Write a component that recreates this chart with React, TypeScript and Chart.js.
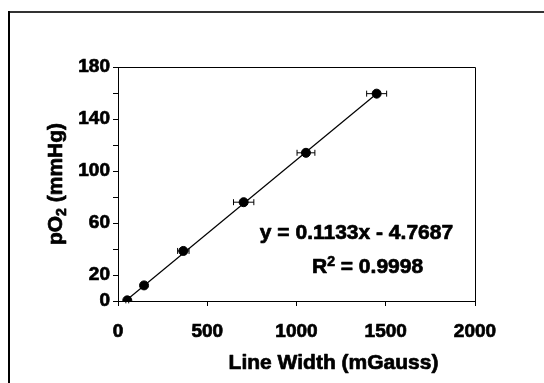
import React, { useEffect, useRef } from "react";
import { Chart, registerables } from "chart.js";

Chart.register(...registerables);

const xValues = [52, 146, 366, 704, 1053, 1449];
const yValues = [0.5, 12, 38.5, 76, 114, 159.5];
const xErrors = [8, 12, 32, 57, 50, 56];

const fitX = [52, 1449];
const fitY = [1.1, 159.4];

const yLabeledTicks = [0, 20, 60, 100, 140, 180];

const equationText = "y = 0.1133x - 4.7687";
const r2Prefix = "R";
const r2Sup = "2";
const r2Rest = " = 0.9998";
const equationPos = { x: 1336, y: 52.3 };
const r2Pos = { x: 1398, y: 27.3 };

const xTitle = "Line Width (mGauss)";
const yTitleA = "pO";
const yTitleSub = "2";
const yTitleB = " (mmHg)";

const FONT = "'Liberation Sans', Arial, sans-serif";
const STROKE = 0.7;

function boldText(ctx: any, text: string, x: number, y: number) {
  ctx.fillText(text, x, y);
  ctx.strokeText(text, x, y);
}

const customPlugin = {
  id: "custom",
  beforeDraw(chart: any) {
    const ctx = chart.ctx;
    ctx.save();
    ctx.fillStyle = "#fff";
    ctx.fillRect(0, 0, chart.width, chart.height);
    ctx.lineWidth = 2;
    ctx.strokeStyle = "#333";
    ctx.beginPath();
    ctx.moveTo(8, 12);
    ctx.lineTo(chart.width, 12);
    ctx.stroke();
    ctx.strokeStyle = "#000";
    ctx.beginPath();
    ctx.moveTo(9, 11);
    ctx.lineTo(9, chart.height);
    ctx.stroke();
    ctx.restore();
  },
  beforeDatasetsDraw(chart: any) {
    const ctx = chart.ctx;
    const xs = chart.scales.x;
    const ys = chart.scales.y;
    ctx.save();
    ctx.strokeStyle = "#000";
    ctx.lineWidth = 1;
    for (let i = 0; i < xValues.length; i++) {
      const x1 = xs.getPixelForValue(xValues[i] - xErrors[i]);
      const x2 = xs.getPixelForValue(xValues[i] + xErrors[i]);
      const py = ys.getPixelForValue(yValues[i]);
      ctx.beginPath();
      ctx.moveTo(x1, py);
      ctx.lineTo(x2, py);
      ctx.moveTo(x1, py - 3);
      ctx.lineTo(x1, py + 3);
      ctx.moveTo(x2, py - 3);
      ctx.lineTo(x2, py + 3);
      ctx.stroke();
    }
    ctx.restore();
  },
  afterDraw(chart: any) {
    const ctx = chart.ctx;
    const a = chart.chartArea;
    const xs = chart.scales.x;
    const ys = chart.scales.y;
    ctx.save();
    ctx.strokeStyle = "#000";
    ctx.lineWidth = 1;
    ctx.beginPath();
    ctx.moveTo(a.left, a.top + 0.5);
    ctx.lineTo(a.right + 0.5, a.top + 0.5);
    ctx.lineTo(a.right + 0.5, a.bottom);
    ctx.stroke();

    ctx.fillStyle = "#000";
    ctx.lineWidth = STROKE;
    ctx.lineJoin = "round";
    const big = `bold 21px ${FONT}`;
    const small = `bold 14px ${FONT}`;

    // x title
    ctx.font = big;
    ctx.textAlign = "center";
    ctx.textBaseline = "middle";
    boldText(ctx, xTitle, (a.left + a.right) / 2 + 37, a.bottom + 62);

    // y title with subscript
    ctx.save();
    ctx.translate(a.left - 63, (a.top + a.bottom) / 2);
    ctx.rotate(-Math.PI / 2);
    ctx.font = big;
    const wA = ctx.measureText(yTitleA).width;
    const wB = ctx.measureText(yTitleB).width;
    ctx.font = small;
    const wS = ctx.measureText(yTitleSub).width;
    const total = wA + wS + wB;
    let cx = -total / 2;
    ctx.textAlign = "left";
    ctx.textBaseline = "alphabetic";
    ctx.font = big;
    boldText(ctx, yTitleA, cx, 7);
    cx += wA;
    ctx.font = small;
    boldText(ctx, yTitleSub, cx, 11);
    cx += wS;
    ctx.font = big;
    boldText(ctx, yTitleB, cx, 7);
    ctx.restore();

    // equation
    ctx.font = big;
    ctx.textAlign = "center";
    ctx.textBaseline = "middle";
    boldText(ctx, equationText, xs.getPixelForValue(equationPos.x), ys.getPixelForValue(equationPos.y));

    // R^2
    ctx.font = big;
    const wR = ctx.measureText(r2Prefix).width;
    const wRest = ctx.measureText(r2Rest).width;
    ctx.font = small;
    const wSup = ctx.measureText(r2Sup).width;
    const tot = wR + wSup + wRest;
    let rx = xs.getPixelForValue(r2Pos.x) - tot / 2;
    const ry = ys.getPixelForValue(r2Pos.y) + 7.5;
    ctx.textAlign = "left";
    ctx.textBaseline = "alphabetic";
    ctx.font = big;
    boldText(ctx, r2Prefix, rx, ry);
    rx += wR;
    ctx.font = small;
    boldText(ctx, r2Sup, rx, ry - 7);
    rx += wSup;
    ctx.font = big;
    boldText(ctx, r2Rest, rx, ry);
    ctx.restore();
  },
};

export default function App() {
  const ref = useRef<HTMLCanvasElement>(null);
  useEffect(() => {
    if (!ref.current) return;
    const points = xValues.map((x, i) => ({ x, y: yValues[i] }));
    const fit = fitX.map((x, i) => ({ x, y: fitY[i] }));
    const tickFont = { family: FONT, size: 19, weight: "bold" as const };
    const chart = new Chart(ref.current, {
      type: "scatter",
      data: {
        datasets: [
          {
            data: points,
            backgroundColor: "#000",
            borderColor: "#000",
            pointRadius: 4.5,
            pointHoverRadius: 4.5,
            showLine: false,
          },
          {
            data: fit,
            borderColor: "#000",
            borderWidth: 1.2,
            pointRadius: 0,
            showLine: true,
          },
        ],
      },
      options: {
        responsive: false,
        animation: false,
        events: [],
        layout: { padding: { left: 0, top: 67, right: 69, bottom: 0 } },
        plugins: { legend: { display: false }, tooltip: { enabled: false } },
        scales: {
          x: {
            type: "linear",
            min: 0,
            max: 2000,
            afterFit: (s: any) => {
              s.height = 82;
            },
            ticks: {
              stepSize: 500,
              color: "#000",
              font: tickFont,
              padding: 14,
              maxRotation: 0,
              textStrokeColor: "#000",
              textStrokeWidth: STROKE,
              callback: (v: any) => String(v),
            },
            grid: { drawOnChartArea: false, drawTicks: true, tickLength: 5, color: "#000", lineWidth: 1 },
            border: { color: "#000", width: 1 },
          },
          y: {
            type: "linear",
            min: 0,
            max: 180,
            afterFit: (s: any) => {
              s.width = 118;
            },
            ticks: {
              stepSize: 20,
              color: "#000",
              font: tickFont,
              padding: 3,
              textStrokeColor: "#000",
              textStrokeWidth: STROKE,
              callback: (v: any) => (yLabeledTicks.includes(Number(v)) ? String(v) : ""),
            },
            grid: { drawOnChartArea: false, drawTicks: true, tickLength: 5, color: "#000", lineWidth: 1 },
            border: { color: "#000", width: 1 },
          },
        },
      },
      plugins: [customPlugin],
    });
    return () => chart.destroy();
  }, []);
  return (
    <div style={{ position: "fixed", left: 0, top: 0, width: 544, height: 383 }}>
      <canvas ref={ref} width={544} height={383} style={{ width: 544, height: 383, display: "block" }} />
    </div>
  );
}
